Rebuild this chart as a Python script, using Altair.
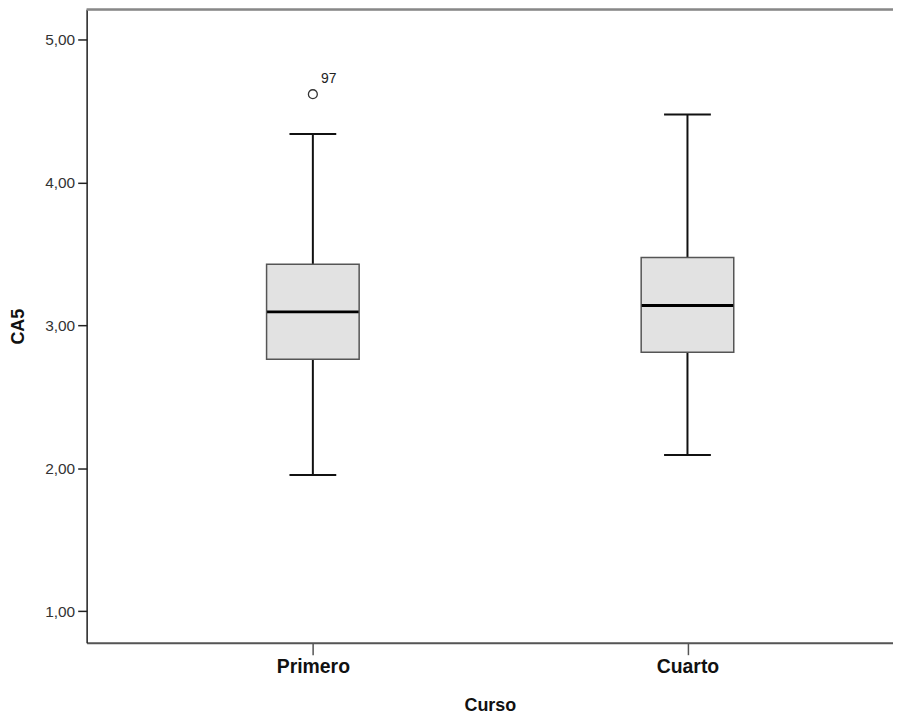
import altair as alt
import pandas as pd

groups = ["Primero", "Cuarto"]
positions = [1, 2]
whisker_low = [1.953, 2.092]
q1 = [2.763, 2.812]
median = [3.094, 3.139]
q3 = [3.428, 3.474]
whisker_high = [4.338, 4.475]

outlier_group = ["Primero"]
outlier_pos = [1]
outlier_value = [4.617]
outlier_label = ["97"]

stats = pd.DataFrame({
    "grupo": groups, "pos": positions, "lo": whisker_low, "q1": q1,
    "med": median, "q3": q3, "hi": whisker_high,
})
outs = pd.DataFrame({"grupo": outlier_group, "pos": outlier_pos,
                     "v": outlier_value, "lab": outlier_label})

FONT = "Liberation Sans"
W, H = 810, 636
xscale = alt.Scale(domain=[0.4094, 0.4094 + W / 381.0], nice=False, zero=False)
yscale = alt.Scale(domain=[0.779, 5.209], nice=False, zero=False)

xax = alt.Axis(values=[1, 2], title="Curso", grid=False,
               labelExpr="datum.value == 1 ? 'Primero' : 'Cuarto'",
               labelFont=FONT, labelFontSize=19.5, labelFontWeight="bold", labelColor="#111",
               labelPadding=3, tickSize=12, tickColor="#555", tickWidth=1.5,
               domainColor="#555", domainWidth=2,
               titleFont=FONT, titleFontSize=18, titleFontWeight="bold", titleColor="#111",
               titlePadding=21)
yax = alt.Axis(values=[1, 2, 3, 4, 5], title="CA5", grid=False,
               labelExpr="replace(format(datum.value, '.2f'), '.', ',')",
               labelFont=FONT, labelFontSize=15.5, labelColor="#333", labelPadding=3,
               tickSize=9, tickColor="#222", tickWidth=1.5,
               domainColor="#222", domainWidth=1.5,
               titleFont=FONT, titleFontSize=18, titleFontWeight="bold", titleColor="#111",
               titlePadding=17)

base = alt.Chart(stats)

whisk = base.mark_rule(color="#111", strokeWidth=2).encode(
    x=alt.X("pos:Q", scale=xscale, axis=xax),
    y=alt.Y("lo:Q", scale=yscale, axis=yax),
    y2="hi:Q",
)
box = base.mark_bar(size=93, orient="vertical", fill="#e2e2e2", opacity=1,
                    stroke="#555", strokeWidth=1.5).encode(
    x=alt.X("pos:Q", scale=xscale),
    y=alt.Y("q1:Q", scale=yscale),
    y2="q3:Q",
)
med = base.mark_tick(orient="horizontal", size=92, thickness=3, color="#000", opacity=1).encode(
    x=alt.X("pos:Q", scale=xscale),
    y=alt.Y("med:Q", scale=yscale),
)
cap_lo = base.mark_tick(orient="horizontal", size=47, thickness=2, color="#111", opacity=1).encode(
    x=alt.X("pos:Q", scale=xscale),
    y=alt.Y("lo:Q", scale=yscale),
)
cap_hi = base.mark_tick(orient="horizontal", size=47, thickness=2, color="#111", opacity=1).encode(
    x=alt.X("pos:Q", scale=xscale),
    y=alt.Y("hi:Q", scale=yscale),
)
opts = alt.Chart(outs).mark_point(shape="circle", size=80, filled=False, opacity=1,
                                  color="#333", strokeWidth=1.3).encode(
    x=alt.X("pos:Q", scale=xscale),
    y=alt.Y("v:Q", scale=yscale),
)
olab = alt.Chart(outs).mark_text(font=FONT, fontSize=14, color="#222", dx=16, dy=-15).encode(
    x=alt.X("pos:Q", scale=xscale),
    y=alt.Y("v:Q", scale=yscale),
    text="lab:N",
)
topline = alt.Chart(stats).mark_rule(color="#888", strokeWidth=2).encode(
    x=alt.value(0), x2=alt.value(W), y=alt.value(0)
)

chart = alt.layer(topline, whisk, box, med, cap_lo, cap_hi, opts, olab).properties(
    width=W, height=H,
    autosize=alt.AutoSizeParams(type="none"),
    padding={"left": 79, "top": 0, "right": 0, "bottom": 76},
).configure_view(stroke=None).configure(background="white")

chart.save("out.html", embed_options={"renderer": "svg", "actions": False})
